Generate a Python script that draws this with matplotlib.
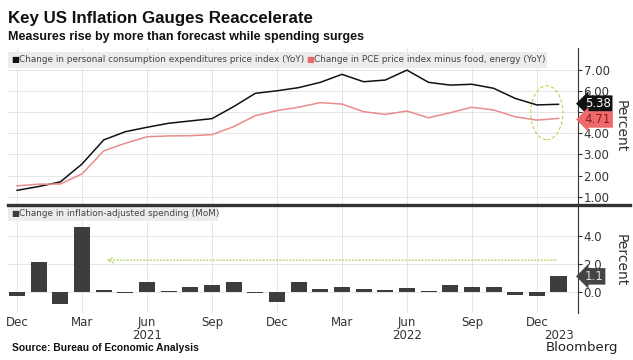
import matplotlib
matplotlib.use("Agg")
import matplotlib.pyplot as plt
from matplotlib.lines import Line2D
from matplotlib.patches import Ellipse, Rectangle
import matplotlib.transforms as mtransforms

# monthly points, Dec 2020 .. Jan 2023
months = ['Dec', 'Jan', 'Feb', 'Mar', 'Apr', 'May', 'Jun', 'Jul', 'Aug', 'Sep', 'Oct', 'Nov',
          'Dec', 'Jan', 'Feb', 'Mar', 'Apr', 'May', 'Jun', 'Jul', 'Aug', 'Sep', 'Oct', 'Nov',
          'Dec', 'Jan']
pce = [1.30, 1.48, 1.70, 2.55, 3.69, 4.08, 4.29, 4.48, 4.59, 4.70, 5.27, 5.90,
       6.02, 6.17, 6.42, 6.80, 6.45, 6.53, 7.00, 6.42, 6.29, 6.33, 6.14, 5.66,
       5.35, 5.38]
core = [1.51, 1.59, 1.60, 2.08, 3.17, 3.53, 3.84, 3.88, 3.89, 3.94, 4.32, 4.84,
        5.08, 5.24, 5.46, 5.39, 5.03, 4.90, 5.06, 4.74, 4.98, 5.24, 5.11, 4.79,
        4.63, 4.71]
spending = [-0.33, 2.10, -0.88, 4.64, 0.12, -0.12, 0.67, 0.02, 0.36, 0.45, 0.71, -0.07,
            -0.71, 0.71, 0.17, 0.31, 0.19, 0.10, 0.24, 0.05, 0.50, 0.31, 0.36, -0.24,
            -0.29, 1.10]
x = list(range(len(months)))
tick_pos = [0, 3, 6, 9, 12, 15, 18, 21, 24]
tick_lab = ['Dec', 'Mar', 'Jun\n2021', 'Sep', 'Dec', 'Mar', 'Jun\n2022', 'Sep', 'Dec']

W, H = 633, 360
fig = plt.figure(figsize=(W / 100, H / 100), dpi=100)
fig.patch.set_facecolor('white')

def box(l, t, r, b):
    return [l / W, 1 - b / H, (r - l) / W, (b - t) / H]

ax1 = fig.add_axes(box(8, 48, 578, 204))
ax2 = fig.add_axes(box(8, 205, 578, 313))

grid_c = '#e6e6e6'
txt_c = '#333333'
for ax in (ax1, ax2):
    for s in ['top', 'left', 'bottom']:
        ax.spines[s].set_visible(False)
    ax.spines['right'].set_color('#333333')
    ax.spines['right'].set_linewidth(0.8)
    ax.yaxis.tick_right()
    ax.set_xlim(-0.42, 25.9)
    ax.set_xticks(tick_pos)
    ax.tick_params(axis='y', which='both', length=3, width=0.8, color='#333333',
                   labelsize=8.5, labelcolor=txt_c, pad=1)
    ax.tick_params(axis='x', which='both', length=0, labelsize=8.5, labelcolor=txt_c, pad=2)
    ax.grid(True, which='major', color=grid_c, linewidth=0.7)
    ax.set_axisbelow(True)

# top panel
ax1.plot(x, pce, color='#111111', lw=1.1, zorder=3)
ax1.plot(x, core, color='#e88c8c', lw=1.1, zorder=3)
ax1.set_ylim(0.65, 8.05)
ax1.set_yticks([1, 2, 3, 4, 5, 6, 7])
ax1.set_yticklabels(['1.00', '2.00', '3.00', '4.00', '', '6.00', '7.00'])
ax1.set_xticklabels([])
ax1.set_ylabel('Percent', rotation=-90, fontsize=10, color=txt_c, va='center', ha='center')
ax1.yaxis.set_label_coords(1.074, 0.5)

ax1.add_patch(Ellipse((24.46, 4.98), 1.48, 2.56, fill=False, ls=(0, (3, 2)),
                      ec='#bcd348', lw=0.8, zorder=4))

ax1.add_patch(Rectangle((0, 0.875), 0.946, 0.1, transform=ax1.transAxes,
                        fc='#ececec', ec='none', zorder=5))
ax1.text(0.006, 0.925, '■', transform=ax1.transAxes, fontsize=6, color='#111111',
         va='center', zorder=6)
ax1.text(0.02, 0.925, 'Change in personal consumption expenditures price index (YoY)',
         transform=ax1.transAxes, fontsize=6.4, color='#444444', va='center', zorder=6)
ax1.text(0.523, 0.925, '■', transform=ax1.transAxes, fontsize=6, color='#e86a6a',
         va='center', zorder=6)
ax1.text(0.537, 0.925, 'Change in PCE price index minus food, energy (YoY)',
         transform=ax1.transAxes, fontsize=6.4, color='#444444', va='center', zorder=6)

trans1 = mtransforms.blended_transform_factory(ax1.transAxes, ax1.transData)
ax1.text(1.012, pce[-1] + 0.03, f'{pce[-1]:.2f}', transform=trans1, fontsize=8.5,
         color='white', va='center', ha='left', zorder=7, clip_on=False,
         bbox=dict(boxstyle='larrow,pad=0.15', fc='#111111', ec='none'))
ax1.text(1.012, core[-1] - 0.05, f'{core[-1]:.2f}', transform=trans1, fontsize=8.5,
         color='#8a1f1f', va='center', ha='left', zorder=7, clip_on=False,
         bbox=dict(boxstyle='larrow,pad=0.15', fc='#ef6a6a', ec='none'))

# bottom panel
ax2.bar(x, spending, width=0.74, color='#3d3d3d', zorder=3)
ax2.set_ylim(-1.52, 6.2)
ax2.set_yticks([0, 2, 4])
ax2.set_yticklabels(['0.0', '2.0', '4.0'])
ax2.set_xticklabels(tick_lab, linespacing=1.05)
ax2.set_xticks([25], ['\n2023'], minor=True)
ax2.tick_params(axis='x', which='minor', labelsize=8.5, labelcolor=txt_c)
for lab in ax2.get_xticklabels(minor=True):
    lab.set_linespacing(1.05)
ax2.set_ylabel('Percent', rotation=-90, fontsize=10, color=txt_c, va='center', ha='center')
ax2.yaxis.set_label_coords(1.074, 0.49)

ax2.annotate('', xy=(4.0, 2.26), xytext=(25, 2.26),
             arrowprops=dict(arrowstyle='->', color='#b0d66a', lw=0.9, ls=':'), zorder=4)

ax2.add_patch(Rectangle((0, 0.855), 0.369, 0.14, transform=ax2.transAxes,
                        fc='#ececec', ec='none', zorder=5))
ax2.text(0.006, 0.925, '■', transform=ax2.transAxes, fontsize=6, color='#3d3d3d',
         va='center', zorder=6)
ax2.text(0.02, 0.925, 'Change in inflation-adjusted spending (MoM)',
         transform=ax2.transAxes, fontsize=6.4, color='#444444', va='center', zorder=6)

trans2 = mtransforms.blended_transform_factory(ax2.transAxes, ax2.transData)
ax2.text(1.012, spending[-1], f'{spending[-1]:.1f}', transform=trans2, fontsize=8.5,
         color='#dddddd', va='center', ha='left', zorder=7, clip_on=False,
         bbox=dict(boxstyle='larrow,pad=0.15', fc='#444444', ec='none'))

# separator between panels
fig.add_artist(Line2D([8 / W, 630 / W], [1 - 204.5 / H] * 2, color='#333333', lw=2.4))

fig.text(8 / W, 1 - 18 / H, 'Key US Inflation Gauges Reaccelerate', fontsize=12.2,
         family='Liberation Sans', fontweight='bold', color='#111111', va='center')
fig.text(8 / W, 1 - 37 / H, 'Measures rise by more than forecast while spending surges',
         family='Liberation Sans', fontsize=9, fontweight='bold', color='#111111',
         va='center')
fig.text(12 / W, 1 - 348 / H, 'Source: Bureau of Economic Analysis', fontsize=7.4,
         family='Liberation Sans', fontweight='bold', color='#111111', va='center')
fig.text(618 / W, 1 - 347 / H, 'Bloomberg', fontsize=9.5, color='#222222',
         va='center', ha='right')

fig.savefig('out.png', dpi=100, facecolor='white')
